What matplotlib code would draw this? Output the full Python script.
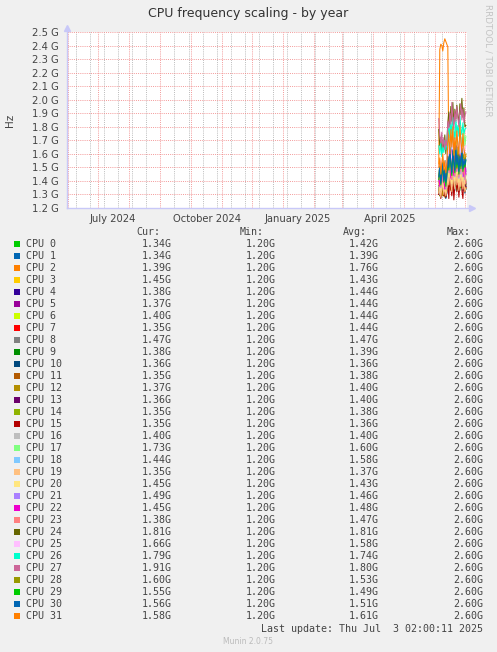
import numpy as np
import matplotlib
matplotlib.use("Agg")
import matplotlib.pyplot as plt
import matplotlib.dates as mdates
from matplotlib.ticker import FixedLocator, FuncFormatter
from datetime import datetime, timedelta

# munin palette, cpu N uses colour N % 29
palette = ["#00CC00", "#0066B3", "#FF8000", "#FFCC00", "#330099", "#990099",
           "#CCFF00", "#FF0000", "#808080", "#008F00", "#00487D", "#B35A00",
           "#B38F00", "#6B006B", "#8FB300", "#B30000", "#BEBEBE", "#80FF80",
           "#80C9FF", "#FFC080", "#FFE680", "#AA80FF", "#EE00CC", "#FF8080",
           "#666600", "#FFBFFF", "#00FFCC", "#CC6699", "#999900"]

# daily averages (GHz), Jun 5 2025 .. Jul 2 2025
day0 = datetime(2025, 6, 5)
cpu = [
    [1.34,1.29,1.38,1.31,1.45,1.33,1.40,1.30,1.36,1.52,1.41,1.58,1.37,1.49,1.62,1.40,1.55,1.44,1.33,1.57,1.46,1.36,1.53,1.39,1.50,1.43,1.32,1.34],
    [1.31,1.36,1.29,1.35,1.42,1.30,1.37,1.28,1.33,1.45,1.51,1.36,1.48,1.38,1.55,1.34,1.46,1.40,1.52,1.35,1.43,1.54,1.37,1.47,1.33,1.41,1.38,1.34],
    [1.52,2.37,2.41,2.40,2.36,2.42,2.45,2.43,2.41,2.39,1.55,1.48,1.60,1.52,1.63,1.47,1.56,1.50,1.58,1.45,1.53,1.61,1.49,1.55,1.44,1.51,1.46,1.39],
    [1.38,1.31,1.45,1.34,1.29,1.42,1.33,1.48,1.36,1.47,1.58,1.40,1.53,1.44,1.61,1.38,1.50,1.56,1.41,1.63,1.45,1.35,1.52,1.39,1.57,1.43,1.36,1.45],
    [1.35,1.43,1.30,1.37,1.47,1.32,1.41,1.50,1.34,1.46,1.59,1.42,1.51,1.37,1.62,1.47,1.40,1.56,1.49,1.38,1.58,1.44,1.53,1.36,1.50,1.41,1.48,1.38],
    [1.40,1.32,1.44,1.35,1.49,1.30,1.39,1.46,1.33,1.55,1.41,1.60,1.47,1.36,1.52,1.63,1.42,1.54,1.39,1.49,1.59,1.45,1.37,1.53,1.42,1.56,1.40,1.37],
    [1.37,1.46,1.33,1.42,1.30,1.48,1.38,1.34,1.47,1.57,1.42,1.53,1.39,1.64,1.48,1.40,1.58,1.44,1.55,1.37,1.50,1.61,1.42,1.49,1.38,1.54,1.45,1.40],
    [1.42,1.33,1.47,1.37,1.30,1.45,1.35,1.49,1.38,1.59,1.47,1.36,1.55,1.43,1.62,1.49,1.39,1.57,1.46,1.35,1.54,1.41,1.60,1.47,1.38,1.45,1.40,1.35],
    [1.43,1.36,1.49,1.39,1.52,1.33,1.46,1.55,1.41,1.50,1.63,1.45,1.58,1.48,1.67,1.52,1.43,1.61,1.50,1.42,1.65,1.47,1.56,1.44,1.54,1.40,1.52,1.47],
    [1.33,1.40,1.29,1.36,1.43,1.31,1.38,1.28,1.34,1.47,1.39,1.54,1.40,1.49,1.35,1.57,1.42,1.36,1.51,1.38,1.46,1.33,1.44,1.55,1.39,1.43,1.34,1.38],
    [1.30,1.35,1.28,1.33,1.39,1.29,1.34,1.27,1.31,1.42,1.36,1.49,1.37,1.31,1.46,1.39,1.33,1.51,1.36,1.44,1.32,1.42,1.35,1.47,1.33,1.40,1.31,1.36],
    [1.32,1.29,1.37,1.31,1.41,1.34,1.28,1.36,1.43,1.37,1.50,1.40,1.33,1.52,1.41,1.35,1.48,1.38,1.54,1.39,1.44,1.36,1.50,1.42,1.34,1.40,1.37,1.35],
    [1.34,1.42,1.31,1.38,1.29,1.41,1.36,1.45,1.33,1.46,1.53,1.39,1.50,1.42,1.57,1.37,1.48,1.41,1.54,1.43,1.38,1.52,1.42,1.49,1.36,1.45,1.40,1.37],
    [1.37,1.31,1.41,1.34,1.44,1.30,1.39,1.33,1.42,1.50,1.37,1.47,1.55,1.40,1.49,1.38,1.53,1.43,1.36,1.51,1.41,1.47,1.38,1.54,1.40,1.44,1.37,1.36],
    [1.31,1.37,1.29,1.34,1.40,1.30,1.36,1.32,1.38,1.44,1.36,1.51,1.39,1.33,1.47,1.37,1.53,1.41,1.34,1.49,1.38,1.44,1.35,1.48,1.37,1.42,1.34,1.35],
    [1.30,1.36,1.27,1.33,1.39,1.29,1.35,1.28,1.31,1.41,1.27,1.46,1.35,1.29,1.44,1.26,1.37,1.48,1.32,1.42,1.28,1.39,1.47,1.33,1.27,1.43,1.32,1.35],
    [1.36,1.30,1.40,1.33,1.43,1.32,1.38,1.45,1.35,1.48,1.40,1.53,1.42,1.36,1.51,1.44,1.38,1.55,1.43,1.39,1.49,1.36,1.52,1.41,1.46,1.37,1.42,1.40],
    [1.45,1.52,1.41,1.49,1.56,1.44,1.53,1.47,1.57,1.66,1.58,1.72,1.62,1.76,1.64,1.57,1.71,1.78,1.61,1.69,1.58,1.75,1.65,1.72,1.60,1.79,1.66,1.73],
    [1.48,1.42,1.53,1.45,1.56,1.50,1.43,1.55,1.51,1.64,1.71,1.57,1.74,1.62,1.77,1.65,1.56,1.70,1.79,1.61,1.68,1.59,1.73,1.54,1.66,1.52,1.49,1.44],
    [1.31,1.37,1.28,1.34,1.40,1.30,1.36,1.29,1.33,1.43,1.37,1.49,1.38,1.32,1.47,1.39,1.34,1.50,1.37,1.44,1.33,1.42,1.36,1.46,1.34,1.40,1.32,1.35],
    [1.37,1.44,1.33,1.40,1.47,1.35,1.42,1.32,1.39,1.51,1.43,1.56,1.45,1.38,1.54,1.47,1.40,1.58,1.44,1.50,1.39,1.49,1.42,1.55,1.40,1.47,1.38,1.45],
    [1.40,1.47,1.35,1.43,1.50,1.38,1.45,1.34,1.42,1.54,1.46,1.60,1.48,1.41,1.58,1.50,1.43,1.62,1.47,1.55,1.42,1.53,1.45,1.59,1.43,1.50,1.41,1.49],
    [1.43,1.36,1.48,1.39,1.52,1.41,1.34,1.46,1.55,1.48,1.61,1.50,1.42,1.63,1.52,1.44,1.59,1.47,1.66,1.53,1.45,1.60,1.49,1.64,1.51,1.43,1.57,1.45],
    [1.41,1.48,1.36,1.44,1.51,1.38,1.46,1.35,1.43,1.56,1.47,1.62,1.49,1.41,1.60,1.50,1.44,1.64,1.48,1.57,1.43,1.55,1.47,1.61,1.45,1.52,1.42,1.38],
    [1.78,1.66,1.72,1.62,1.70,1.64,1.74,1.60,1.68,1.83,1.91,1.80,1.95,1.84,1.98,1.82,1.93,1.86,1.96,1.88,1.83,1.97,1.89,2.01,1.87,1.94,1.80,1.81],
    [1.52,1.45,1.55,1.48,1.58,1.46,1.53,1.49,1.57,1.66,1.56,1.70,1.61,1.53,1.68,1.59,1.73,1.63,1.55,1.69,1.60,1.71,1.62,1.54,1.65,1.57,1.63,1.66],
    [1.66,1.60,1.68,1.58,1.65,1.61,1.70,1.63,1.67,1.76,1.82,1.72,1.84,1.75,1.87,1.78,1.71,1.85,1.76,1.81,1.73,1.88,1.79,1.74,1.83,1.75,1.78,1.79],
    [1.86,1.74,1.68,1.76,1.65,1.72,1.63,1.70,1.66,1.84,1.79,1.90,1.82,1.98,1.86,1.78,1.92,1.84,1.95,1.87,1.80,1.91,1.97,1.85,1.93,1.83,1.88,1.91],
    [1.44,1.51,1.40,1.47,1.54,1.42,1.49,1.41,1.46,1.58,1.51,1.64,1.54,1.47,1.62,1.55,1.67,1.57,1.49,1.65,1.55,1.59,1.51,1.63,1.56,1.60,1.52,1.60],
    [1.41,1.48,1.37,1.44,1.51,1.39,1.46,1.36,1.43,1.55,1.48,1.62,1.51,1.44,1.60,1.52,1.46,1.63,1.50,1.57,1.45,1.56,1.49,1.61,1.47,1.53,1.50,1.55],
    [1.43,1.50,1.38,1.46,1.53,1.40,1.48,1.39,1.45,1.58,1.50,1.65,1.53,1.46,1.63,1.54,1.48,1.66,1.52,1.59,1.47,1.58,1.51,1.64,1.49,1.56,1.52,1.56],
    [1.50,1.57,1.45,1.53,1.60,1.48,1.55,1.46,1.52,1.68,1.74,1.60,1.78,1.65,1.80,1.59,1.72,1.63,1.77,1.66,1.60,1.81,1.69,1.61,1.75,1.64,1.59,1.58],
]

cur = [1.34,1.34,1.39,1.45,1.38,1.37,1.40,1.35,1.47,1.38,1.36,1.35,1.37,1.36,1.35,1.35,
       1.40,1.73,1.44,1.35,1.45,1.49,1.45,1.38,1.81,1.66,1.79,1.91,1.60,1.55,1.56,1.58]
mins = [1.20] * 32
avg = [1.42,1.39,1.76,1.43,1.44,1.44,1.44,1.44,1.47,1.39,1.36,1.38,1.40,1.40,1.38,1.36,
       1.40,1.60,1.58,1.37,1.43,1.46,1.48,1.47,1.81,1.58,1.74,1.80,1.53,1.49,1.51,1.61]
maxs = [2.60] * 32

yticks = [1.2,1.3,1.4,1.5,1.6,1.7,1.8,1.9,2.0,2.1,2.2,2.3,2.4,2.5]
xlabels = ["July 2024", "October 2024", "January 2025", "April 2025"]
xlabel_dates = [datetime(2024,7,16), datetime(2024,10,17), datetime(2025,1,16), datetime(2025,4,17)]

W, H = 497, 652
bg = "#F0F0F0"
txt = "#444444"
fig = plt.figure(figsize=(W/100, H/100), dpi=100, facecolor=bg)

ax = fig.add_axes([67/W, (H-208)/H, 400/W, 176/H])
ax.set_facecolor("white")

t0 = datetime(2024, 5, 31, 2)
t1 = datetime(2025, 7, 3, 2)
ax.set_xlim(t0, t1)
ax.set_ylim(1.2, 2.5)

# grid: red every month, grey every two weeks, red every 0.1 G
months = [datetime(2024 + (5 + k) // 12, (5 + k) % 12 + 1, 1) for k in range(14)]
minor = [datetime(2024, 6, 9) + timedelta(days=14 * k) for k in range(29)]
ax.xaxis.set_major_locator(FixedLocator(mdates.date2num(months)))
ax.xaxis.set_minor_locator(FixedLocator(mdates.date2num(minor)))
ax.xaxis.set_major_formatter(FuncFormatter(lambda v, p: ""))
ax.yaxis.set_major_locator(FixedLocator(yticks))
ax.yaxis.set_major_formatter(FuncFormatter(lambda v, p: f"{v:.1f} G"))
ax.tick_params(axis="both", which="both", length=0)
ax.tick_params(axis="y", labelsize=7.2, labelcolor=txt, pad=6)

ax.grid(which="minor", axis="x", color="#BBBBBB", lw=0.7, ls=(0, (1, 1.2)))
ax.grid(which="major", axis="both", color="#F08080", alpha=0.8, lw=0.7, ls=(0, (1, 1.2)))
ax.set_axisbelow(True)

for s in ax.spines.values():
    s.set_visible(False)

days = [day0 + timedelta(days=i) for i in range(len(cpu[0]))]
for i, vals in enumerate(cpu):
    ax.plot(days, vals, color=palette[i % 29], lw=0.75, zorder=3)

# axis lines with little arrows
axc = "#C8C8F8"
ax.plot([0, 1.012], [0, 0], transform=ax.transAxes, color=axc, lw=1, clip_on=False, zorder=4)
ax.plot([0, 0], [0, 1.02], transform=ax.transAxes, color=axc, lw=1, clip_on=False, zorder=4)
ax.plot([1.012], [0], transform=ax.transAxes, marker=">", ms=4, color=axc, clip_on=False, zorder=4)
ax.plot([0], [1.02], transform=ax.transAxes, marker="^", ms=4, color=axc, clip_on=False, zorder=4)

for d, lab in zip(xlabel_dates, xlabels):
    ax.text(d, -0.035, lab, transform=ax.get_xaxis_transform(), ha="center", va="top",
            fontsize=7.2, color=txt)

fig.text(248/W, 1 - 14/H, "CPU frequency scaling - by year", ha="center", va="center",
         fontsize=9, color="#333333")
fig.text(10/W, 1 - 120/H, "Hz", rotation=90, ha="center", va="center", fontsize=7.5, color=txt)
fig.text(488/W, 1 - 4/H, "RRDTOOL / TOBI OETIKER", rotation=270, ha="center", va="top",
         fontsize=6.3, color="#C4C4C4")

# legend table
mono = "DejaVu Sans Mono"
fs = 7.2
for hx, h in zip([136, 240, 343, 447], ["Cur:", "Min:", "Avg:", "Max:"]):
    fig.text(hx/W, 1 - 232/H, h, ha="left", va="center", family=mono, fontsize=fs, color=txt)
for i in range(32):
    y = 1 - (244 + 12 * i)/H
    fig.patches.append(plt.Rectangle((14/W, y - 3/H), 6/W, 6/H, transform=fig.transFigure,
                                     color=palette[i % 29], lw=0))
    fig.text(26/W, y, f"CPU {i}", ha="left", va="center", family=mono, fontsize=fs, color=txt)
    for vx, v in zip([172, 276, 379, 483], [cur[i], mins[i], avg[i], maxs[i]]):
        fig.text(vx/W, y, f"{v:.2f}G", ha="right", va="center", family=mono, fontsize=fs, color=txt)

fig.text(483/W, 1 - 629/H, "Last update: Thu Jul  3 02:00:11 2025", ha="right", va="center",
         family=mono, fontsize=fs, color=txt)
fig.text(248/W, 1 - 641/H, "Munin 2.0.75", ha="center", va="center", fontsize=5.5, color="#BBBBBB")

fig.savefig("out.png", dpi=100, facecolor=bg)
